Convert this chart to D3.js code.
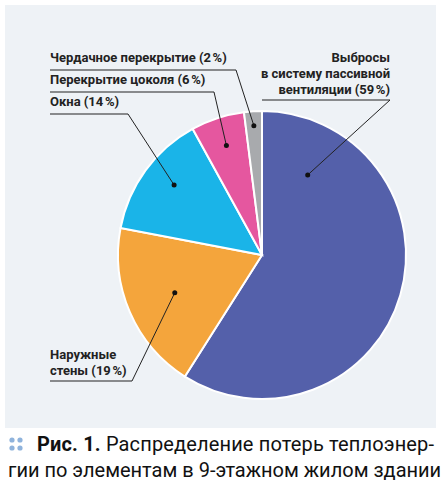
<!DOCTYPE html><html><head><meta charset="utf-8">
<script src="https://cdn.jsdelivr.net/npm/d3@7"></script>
<style>body{margin:0;background:#fff}text{font-family:"Roboto",sans-serif}</style></head><body>
<svg id="c" width="444" height="497"></svg>
<script>
const categories=["Выбросы в систему пассивной вентиляции","Наружные стены","Окна","Перекрытие цоколя","Чердачное перекрытие"];
const values=[59,19,14,6,2];
const colors=["#5460aa","#f4a53c","#1ab4e8","#e5579f","#a8aaad"];
const labelLines=[["Выбросы","в систему пассивной","вентиляции (59\u202f%)"],["Наружные","стены (19\u202f%)"],["Окна (14\u202f%)"],["Перекрытие цоколя (6\u202f%)"],["Чердачное перекрытие (2\u202f%)"]];
const svg=d3.select("#c");
svg.append("rect").attr("x",5).attr("y",5).attr("width",431).attr("height",423).attr("fill","#eef2f6");
const cx=262,cy=255,r=144;
const g=svg.append("g").attr("transform",`translate(${cx},${cy})`);
const arcs=d3.pie().sort(null)(values);
const arc=d3.arc().innerRadius(0).outerRadius(r);
g.selectAll("path").data(arcs).join("path").attr("d",arc).attr("fill",(d,i)=>colors[i]).attr("stroke","#fff").attr("stroke-width",2);
const spec=[
 {x:390,y:62,anchor:"end",ux1:262,ux2:390,uy:100,rr:0.64,f:0.14},
 {x:50,y:359,anchor:"start",ux1:50,ux2:132,uy:381,rr:0.66,f:0.5},
 {x:50,y:106,anchor:"start",ux1:50,ux2:128,uy:114,rr:0.78,f:0.55},
 {x:50,y:84,anchor:"start",ux1:50,ux2:214,uy:92,rr:0.8,f:0.5},
 {x:50,y:62,anchor:"start",ux1:50,ux2:236,uy:70,rr:0.9,f:0.5}
];
arcs.forEach((a,i)=>{
 const s=spec[i];
 const m=a.startAngle+(a.endAngle-a.startAngle)*s.f;
 const px=cx+Math.sin(m)*r*s.rr, py=cy-Math.cos(m)*r*s.rr;
 svg.append("polyline").attr("points",`${s.ux1},${s.uy} ${s.ux2},${s.uy} ${px},${py}`).attr("fill","none").attr("stroke","#222").attr("stroke-width",1);
 svg.append("circle").attr("cx",px).attr("cy",py).attr("r",2.5).attr("fill","#111");
 const t=svg.append("text").attr("x",s.x).attr("y",s.y).attr("text-anchor",s.anchor).attr("font-size",13).attr("font-weight","bold").attr("fill","#222");
 labelLines[i].forEach((l,j)=>t.append("tspan").attr("x",s.x).attr("dy",j?16:0).text(l));
});
[[12,440],[20,440],[12,448],[20,448]].forEach(p=>svg.append("circle").attr("cx",p[0]).attr("cy",p[1]).attr("r",2.6).attr("fill","#8fb3dc"));
const c1=svg.append("text").attr("x",37).attr("y",451).attr("font-size",20).attr("fill","#111").attr("textLength",397).attr("lengthAdjust","spacing");
c1.append("tspan").attr("font-weight","bold").text("Рис. 1.");
c1.append("tspan").text(" Распределение потерь теплоэнер-");
svg.append("text").attr("x",8).attr("y",477).attr("font-size",20).attr("fill","#111").text("гии по элементам в 9-этажном жилом здании");
</script></body></html>
